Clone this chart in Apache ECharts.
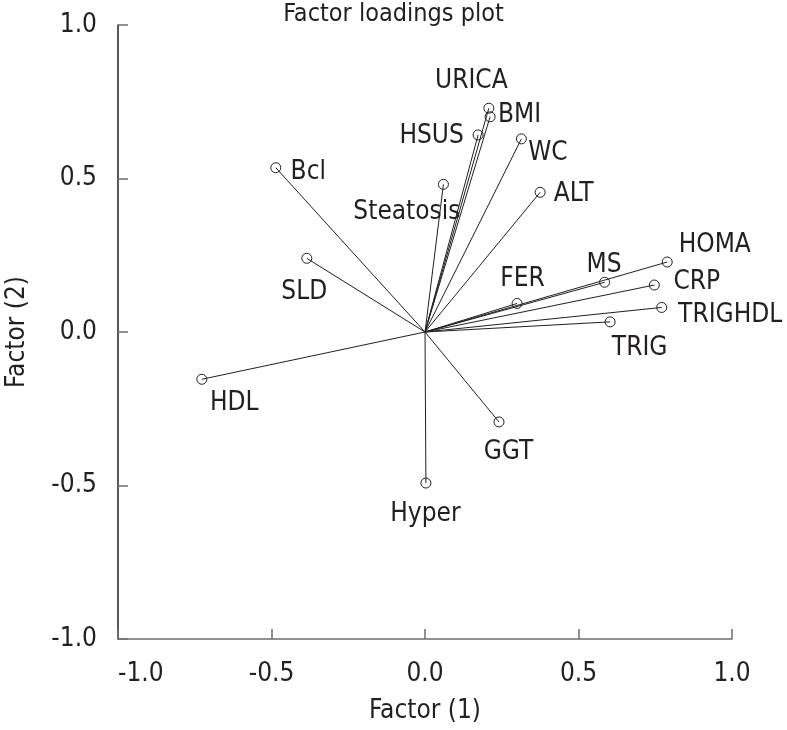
<!DOCTYPE html>
<html>
<head>
<meta charset="utf-8">
<script src="https://cdn.jsdelivr.net/npm/echarts@6/dist/echarts.min.js"></script>
<style>html,body{margin:0;padding:0;background:#fff}#c{width:787px;height:730px}</style>
</head>
<body>
<div id="c"></div>
<script>
// Data
var variables = ['URICA','BMI','HSUS','WC','Bcl','Steatosis','ALT','HOMA','SLD','MS','CRP','FER','TRIGHDL','TRIG','HDL','GGT','Hyper'];
var factor1 = [0.208, 0.212, 0.173, 0.314, -0.486, 0.060, 0.375, 0.789, -0.385, 0.585, 0.747, 0.300, 0.771, 0.603, -0.727, 0.241, 0.003];
var factor2 = [0.729, 0.701, 0.642, 0.629, 0.535, 0.481, 0.455, 0.228, 0.240, 0.162, 0.153, 0.093, 0.080, 0.033, -0.154, -0.293, -0.492];
var axisTicks = [-1.0, -0.5, 0.0, 0.5, 1.0];

// Label placement (style only): label centre relative to the point, in px
var labelOffsets = {
  URICA:[-17,-26], BMI:[30,-1], HSUS:[-46,2], WC:[27,15], Bcl:[33,5], Steatosis:[-36,28],
  ALT:[34,2], HOMA:[48,-16], SLD:[-2,34], MS:[0,-17], CRP:[43,-2], FER:[6,-24],
  TRIGHDL:[69,8], TRIG:[30,27], HDL:[33,24], GGT:[10,31], Hyper:[0,32]
};

var FONT = "'DejaVu Sans Condensed', 'DejaVu Sans', sans-serif";
var textColor = '#231f20';
var SYM = 10;

var lineData = variables.map(function(n,i){ return {coords:[[0,0],[factor1[i],factor2[i]]]}; });
var pointData = variables.map(function(n,i){
  var o = labelOffsets[n];
  return {
    name: n,
    value: [factor1[i], factor2[i]],
    label: { position: [SYM/2 + o[0], SYM/2 + o[1]], align: 'center', verticalAlign: 'middle' }
  };
});

var chart = echarts.init(document.getElementById('c'), null, {renderer:'canvas'});
chart.setOption({
  backgroundColor: '#fff',
  animation: false,
  title: {
    text: 'Factor loadings plot',
    left: 'center',
    top: -3,
    textStyle: { fontFamily: FONT, fontSize: 25, fontWeight: 'normal', color: textColor }
  },
  grid: { left: 118, right: 55, top: 25, bottom: 91, containLabel: false, outerBoundsMode: 'none' },
  xAxis: {
    type: 'value', min: -1, max: 1, interval: 0.5,
    name: 'Factor (1)', nameLocation: 'middle', nameGap: 59,
    nameTextStyle: { fontFamily: FONT, fontSize: 26, color: textColor },
    axisLine: { show: true, onZero: false, lineStyle: { color: '#6d6e71', width: 1.5 } },
    axisTick: { show: true, inside: true, length: 10, lineStyle: { color: '#6d6e71', width: 1.5 } },
    splitLine: { show: false },
    axisLabel: {
      fontFamily: FONT, fontSize: 26, color: textColor, margin: 22,
      alignMinLabel: 'left',
      formatter: function(v){ return v.toFixed(1); }
    }
  },
  yAxis: {
    type: 'value', min: -1, max: 1, interval: 0.5,
    name: 'Factor (2)', nameLocation: 'middle', nameGap: 88, nameRotate: 90,
    nameTextStyle: { fontFamily: FONT, fontSize: 26, color: textColor },
    axisLine: { show: true, onZero: false, lineStyle: { color: '#231f20', width: 1.5 } },
    axisTick: { show: true, inside: true, length: 10, lineStyle: { color: '#6d6e71', width: 1.5 } },
    splitLine: { show: false },
    axisLabel: {
      fontFamily: FONT, fontSize: 26, color: textColor, margin: 21,
      formatter: function(v){ return v.toFixed(1); }
    }
  },
  series: [
    {
      type: 'lines',
      coordinateSystem: 'cartesian2d',
      silent: true,
      z: 2,
      lineStyle: { color: '#231f20', width: 1, opacity: 1 },
      data: lineData
    },
    {
      type: 'scatter',
      z: 3,
      symbol: 'circle',
      symbolSize: SYM,
      itemStyle: { color: 'rgba(255,255,255,0)', borderColor: '#231f20', borderWidth: 1, opacity: 1 },
      label: {
        show: true,
        fontFamily: FONT, fontSize: 26, color: textColor,
        formatter: function(p){ return p.name; }
      },
      labelLayout: { hideOverlap: false },
      data: pointData
    }
  ]
});
</script>
</body>
</html>
